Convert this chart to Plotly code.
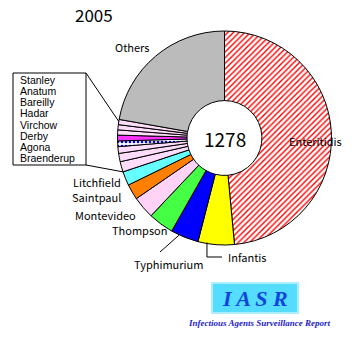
import math
import plotly.graph_objects as go

# ---------------- data ----------------
labels = ["Enteritidis", "Infantis", "Typhimurium", "Thompson", "Montevideo",
          "Saintpaul", "Litchfield", "Braenderup", "Agona", "Derby", "Virchow",
          "Hadar", "Bareilly", "Anatum", "Stanley", "Others"]
values = [620, 70, 54, 49, 43, 30, 27, 20, 16, 13, 11, 11, 10, 10, 10, 284]
year = "2005"
small_list = ["Stanley", "Anatum", "Bareilly", "Hadar", "Virchow", "Derby", "Agona", "Braenderup"]

# ---------------- style ----------------
colors = ["#FFFFFF", "#FFFF00", "#0000FF", "#44FF44", "#FFD2F6", "#FF8000",
          "#66FFFF", "#FFDDFA", "#FFDDFA", "#FFDDFA", "#FFFFFF", "#FF33FF",
          "#FFDDFA", "#FFDDFA", "#FFDDFA", "#BBBBBB"]
pat_shape = ["/" if l == "Enteritidis" else ("." if l == "Virchow" else "") for l in labels]
pat_fg = ["#FF0000" if l == "Enteritidis" else ("#0000FF" if l == "Virchow" else "#000000") for l in labels]
pat_bg = ["#FFFFFF"] * len(labels)

W, H = 362, 352
CX, CY, R = 224.5, 138, 107
FONT = "Noto Sans CJK JP"


def px(x):
    return x / W


def py(y):
    return 1 - y / H


total = sum(values)
cum = [0]
for v in values:
    cum.append(cum[-1] + v)


def edge_pt(label, frac, r=R):
    i = labels.index(label)
    a = 2 * math.pi * (cum[i] + frac * values[i]) / total
    return CX + r * math.sin(a), CY - r * math.cos(a)


fig = go.Figure(go.Pie(
    labels=labels, values=values, sort=False, direction="clockwise", rotation=0,
    hole=0.35, textinfo="none", hoverinfo="label+value",
    marker=dict(colors=colors, line=dict(color="#000000", width=1),
                pattern=dict(shape=pat_shape, fgcolor=pat_fg, bgcolor=pat_bg,
                             size=4, solidity=0.35)),
    domain=dict(x=[px(CX - R), px(CX + R)], y=[py(CY + R), py(CY - R)]),
    showlegend=False,
))

ann = []
shapes = []


def text(t, x, y, xanchor="left", size=11, **kw):
    ann.append(dict(text=t, x=px(x), y=py(y), xref="paper", yref="paper",
                    xanchor=xanchor, yanchor="middle", showarrow=False,
                    font=dict(family=kw.pop("family", FONT), size=size,
                              color=kw.pop("color", "#000000")), **kw))


def line(x0, y0, x1, y1, color="#000000", width=1):
    shapes.append(dict(type="line", xref="paper", yref="paper",
                       x0=px(x0), y0=py(y0), x1=px(x1), y1=py(y1),
                       line=dict(color=color, width=width)))


# title and centre
text(year, 94, 14, "center", 17)
text(str(total), CX, 138, "center", 19)

# labels
text("Others", 113, 47)
text("Enteritidis", 287, 141)
text("Infantis", 226, 257)
text("Typhimurium", 168, 264, "center")
text("Thompson", 110, 230)
text("Montevideo", 138, 215, "right")
text("Saintpaul", 123, 197, "right")
text("Litchfield", 123, 182, "right")

# Infantis elbow leader
ix, iy = edge_pt("Infantis", 0.75)
line(ix, iy - 1, ix, 257)
line(ix, 257, 222, 257)
# Typhimurium leader
tx, ty = edge_pt("Typhimurium", 0.7)
line(tx, ty, 160, 252)

# small-slice list box
shapes.append(dict(type="rect", xref="paper", yref="paper",
                   x0=px(13), y0=py(165), x1=px(86), y1=py(73),
                   line=dict(color="#000000", width=1), fillcolor="#FFFFFF"))
n = len(small_list)
for k, name in enumerate(small_list):
    yy = 79.5 + k * (158.5 - 79.5) / (n - 1)
    text(name, 18, yy, "left", 10.5, family="Liberation Sans")
sx, sy = edge_pt("Stanley", 0.6)
line(86, 73, sx, sy)
bx, by = edge_pt("Braenderup", 0.0)
line(86, 165, bx, by)

# IASR logo
shapes.append(dict(type="rect", xref="paper", yref="paper",
                   x0=px(212), y0=py(313), x1=px(298), y1=py(283),
                   line=dict(color="#AAEEFF", width=2), fillcolor="#55DDFF"))
text("<b><i>I A S R</i></b>", 255, 298, "center", 22,
     family="Liberation Serif", color="#1144DD")
text("<b><i>Infectious Agents Surveillance Report</i></b>", 259, 323, "center", 9,
     family="Liberation Serif", color="#2222CC")

fig.update_layout(width=W, height=H, margin=dict(l=0, r=0, t=0, b=0),
                  paper_bgcolor="#FFFFFF", plot_bgcolor="#FFFFFF",
                  annotations=ann, shapes=shapes)
fig.write_html("out.html")
